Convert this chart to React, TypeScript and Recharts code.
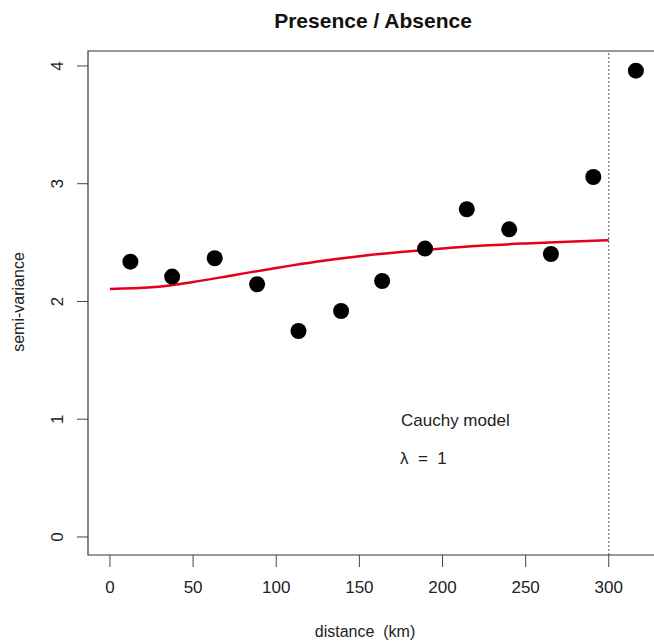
import React from "react";
import {
  ComposedChart,
  XAxis,
  YAxis,
  Line,
  Scatter,
  ReferenceArea,
  ReferenceLine,
} from "recharts";

// empirical semi-variance (distance in km, semi-variance)
const pointDistance = [12.3, 37.4, 63.0, 88.5, 113.4, 139.0, 163.7, 189.5, 214.6, 240.1, 265.2, 290.7, 316.3];
const pointSemivar = [2.338, 2.211, 2.367, 2.146, 1.749, 1.919, 2.174, 2.449, 2.783, 2.613, 2.403, 3.057, 3.96];

// fitted Cauchy model curve
const curveDistance = [0, 25, 50, 75, 100, 125, 150, 175, 200, 225, 250, 275, 300];
const curveSemivar = [2.106, 2.12, 2.165, 2.225, 2.285, 2.34, 2.385, 2.42, 2.45, 2.475, 2.493, 2.508, 2.52];

const xTicks = [0, 50, 100, 150, 200, 250, 300];
const yTicks = [0, 1, 2, 3, 4];

const points = pointDistance.map((d, i) => ({ d, v: pointSemivar[i] }));
const curve = curveDistance.map((d, i) => ({ d, v: curveSemivar[i] }));

const X_DOMAIN: [number, number] = [-13.2, 329];
const Y_DOMAIN: [number, number] = [-0.153, 4.127];
const FONT = "'Liberation Sans', Arial, sans-serif";

const YTick = (props: any) => {
  const { x, y, payload } = props;
  return (
    <text
      x={x}
      y={y}
      transform={`rotate(-90, ${x}, ${y})`}
      textAnchor="middle"
      fontSize={17}
      fontFamily={FONT}
      fill="#222"
    >
      {payload.value}
    </text>
  );
};

const Dot = (props: any) => <circle cx={props.cx} cy={props.cy} r={8} fill="#000" />;

export default function App() {
  return (
    <div
      style={{
        position: "absolute",
        left: 0,
        top: 0,
        width: 654,
        height: 643,
        overflow: "hidden",
        background: "#fff",
        fontFamily: FONT,
      }}
    >
      <ComposedChart
        width={660}
        height={643}
        margin={{ top: 51, right: 3, bottom: 48, left: 28 }}
      >
        <XAxis
          dataKey="d"
          type="number"
          domain={X_DOMAIN}
          allowDataOverflow
          ticks={xTicks}
          tickSize={12}
          tickMargin={14}
          height={40}
          axisLine={false}
          tickLine={{ stroke: "#444" }}
          tick={{ fontSize: 17, fontFamily: FONT, fill: "#222" }}
        />
        <YAxis
          dataKey="v"
          type="number"
          domain={Y_DOMAIN}
          allowDataOverflow
          ticks={yTicks}
          tickSize={11}
          tickMargin={14}
          width={60}
          axisLine={false}
          tickLine={{ stroke: "#444" }}
          tick={<YTick />}
        />
        <ReferenceArea
          x1={X_DOMAIN[0]}
          x2={X_DOMAIN[1]}
          y1={Y_DOMAIN[0]}
          y2={Y_DOMAIN[1]}
          fill="none"
          fillOpacity={0}
          stroke="#333"
          strokeWidth={1.2}
          ifOverflow="visible"
        />
        <ReferenceLine x={300} stroke="#555" strokeDasharray="2 2" strokeWidth={1} />
        <Line
          data={curve}
          dataKey="v"
          type="monotone"
          stroke="#e3001a"
          strokeWidth={2.5}
          dot={false}
          activeDot={false}
          isAnimationActive={false}
        />
        <Scatter data={points} dataKey="v" fill="#000" shape={<Dot />} isAnimationActive={false} />
      </ComposedChart>

      <div
        style={{
          position: "absolute",
          left: 373,
          top: 10,
          transform: "translateX(-50%)",
          fontSize: 21,
          lineHeight: "21px",
          fontWeight: "bold",
          whiteSpace: "nowrap",
          color: "#111",
        }}
      >
        Presence / Absence
      </div>
      <div
        style={{
          position: "absolute",
          left: 365,
          top: 624,
          transform: "translateX(-50%)",
          fontSize: 16,
          lineHeight: "16px",
          whiteSpace: "pre",
          color: "#222",
        }}
      >
        {"distance  (km)"}
      </div>
      <div
        style={{
          position: "absolute",
          left: 19,
          top: 302,
          transform: "translate(-50%, -50%) rotate(-90deg)",
          fontSize: 16,
          lineHeight: "16px",
          whiteSpace: "nowrap",
          color: "#222",
        }}
      >
        semi-variance
      </div>
      <div
        style={{
          position: "absolute",
          left: 401,
          top: 412,
          fontSize: 17,
          lineHeight: "17px",
          whiteSpace: "nowrap",
          color: "#222",
        }}
      >
        Cauchy model
      </div>
      <div
        style={{
          position: "absolute",
          left: 400,
          top: 450,
          fontSize: 17,
          lineHeight: "17px",
          whiteSpace: "pre",
          color: "#222",
        }}
      >
        {"λ  =  1"}
      </div>
    </div>
  );
}
